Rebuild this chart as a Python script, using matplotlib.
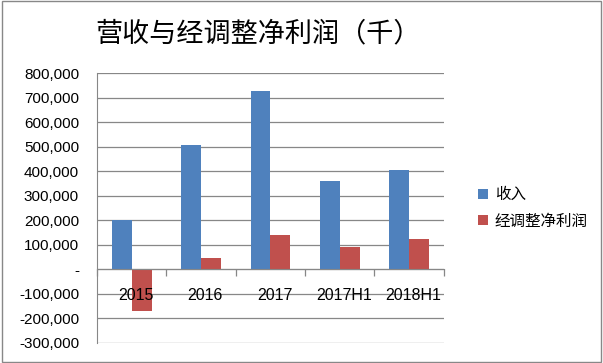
import numpy as np
import matplotlib.pyplot as plt
from matplotlib.ticker import FuncFormatter, MultipleLocator
from matplotlib.patches import Rectangle

plt.rcParams['font.family'] = ['Liberation Sans', 'Noto Sans CJK SC', 'DejaVu Sans']

categories = ['2015', '2016', '2017', '2017H1', '2018H1']
revenue = [200000, 507000, 728000, 360000, 405000]
adj_profit = [-169000, 46000, 141000, 91000, 124000]
series_names = ['收入', '经调整净利润']
title = '营收与经调整净利润（千）'

blue = '#4F81BD'
red = '#C0504D'
grid_c = '#878787'

fig = plt.figure(figsize=(6.03, 3.63), dpi=100)
ax = fig.add_axes([0.161, 0.056, 0.575, 0.742])

x = np.arange(len(categories))
w = 0.285
ax.bar(x - w / 2, revenue, w, color=blue, label=series_names[0], zorder=3)
ax.bar(x + w / 2, adj_profit, w, color=red, label=series_names[1], zorder=3)

ax.set_xlim(-0.5, len(categories) - 0.5)
ax.set_ylim(-300000, 800000)
ax.yaxis.set_major_locator(MultipleLocator(100000))
ax.yaxis.set_major_formatter(FuncFormatter(lambda v, p: '-' if v == 0 else f'{v:,.0f}'))
ax.tick_params(axis='y', length=0, pad=13, labelsize=11)
ax.grid(axis='y', color=grid_c, linewidth=0.9, zorder=0)

# category boundary ticks on the zero line
ax.set_xticks(np.arange(-0.5, len(categories), 1.0))
ax.tick_params(axis='x', length=5, width=0.9, color=grid_c, labelbottom=False)
for s in ['top', 'right']:
    ax.spines[s].set_visible(False)
ax.spines['bottom'].set_position(('data', 0))
ax.spines['bottom'].set_color(grid_c)
ax.spines['bottom'].set_zorder(4)
ax.spines['left'].set_color(grid_c)

for i, c in enumerate(categories):
    ax.text(i + 0.06, -109000, c, ha='center', va='center', fontsize=11.5, zorder=5)

fig.text(0.428, 0.906, title, ha='center', va='center', fontsize=19.5,
         family=['Noto Sans CJK SC', 'DejaVu Sans'])

fig.legend(loc='center left', bbox_to_anchor=(0.77, 0.427), frameon=False,
           handlelength=0.65, handleheight=0.65, handletextpad=0.4,
           labelspacing=0.6, prop={'family': ['Noto Sans CJK SC'], 'size': 11.2})

fig.patches.append(Rectangle((0.003, 0.003), 0.994, 0.994, transform=fig.transFigure,
                             fill=False, edgecolor='#888888', linewidth=1))

fig.savefig('out.png', dpi=100)
